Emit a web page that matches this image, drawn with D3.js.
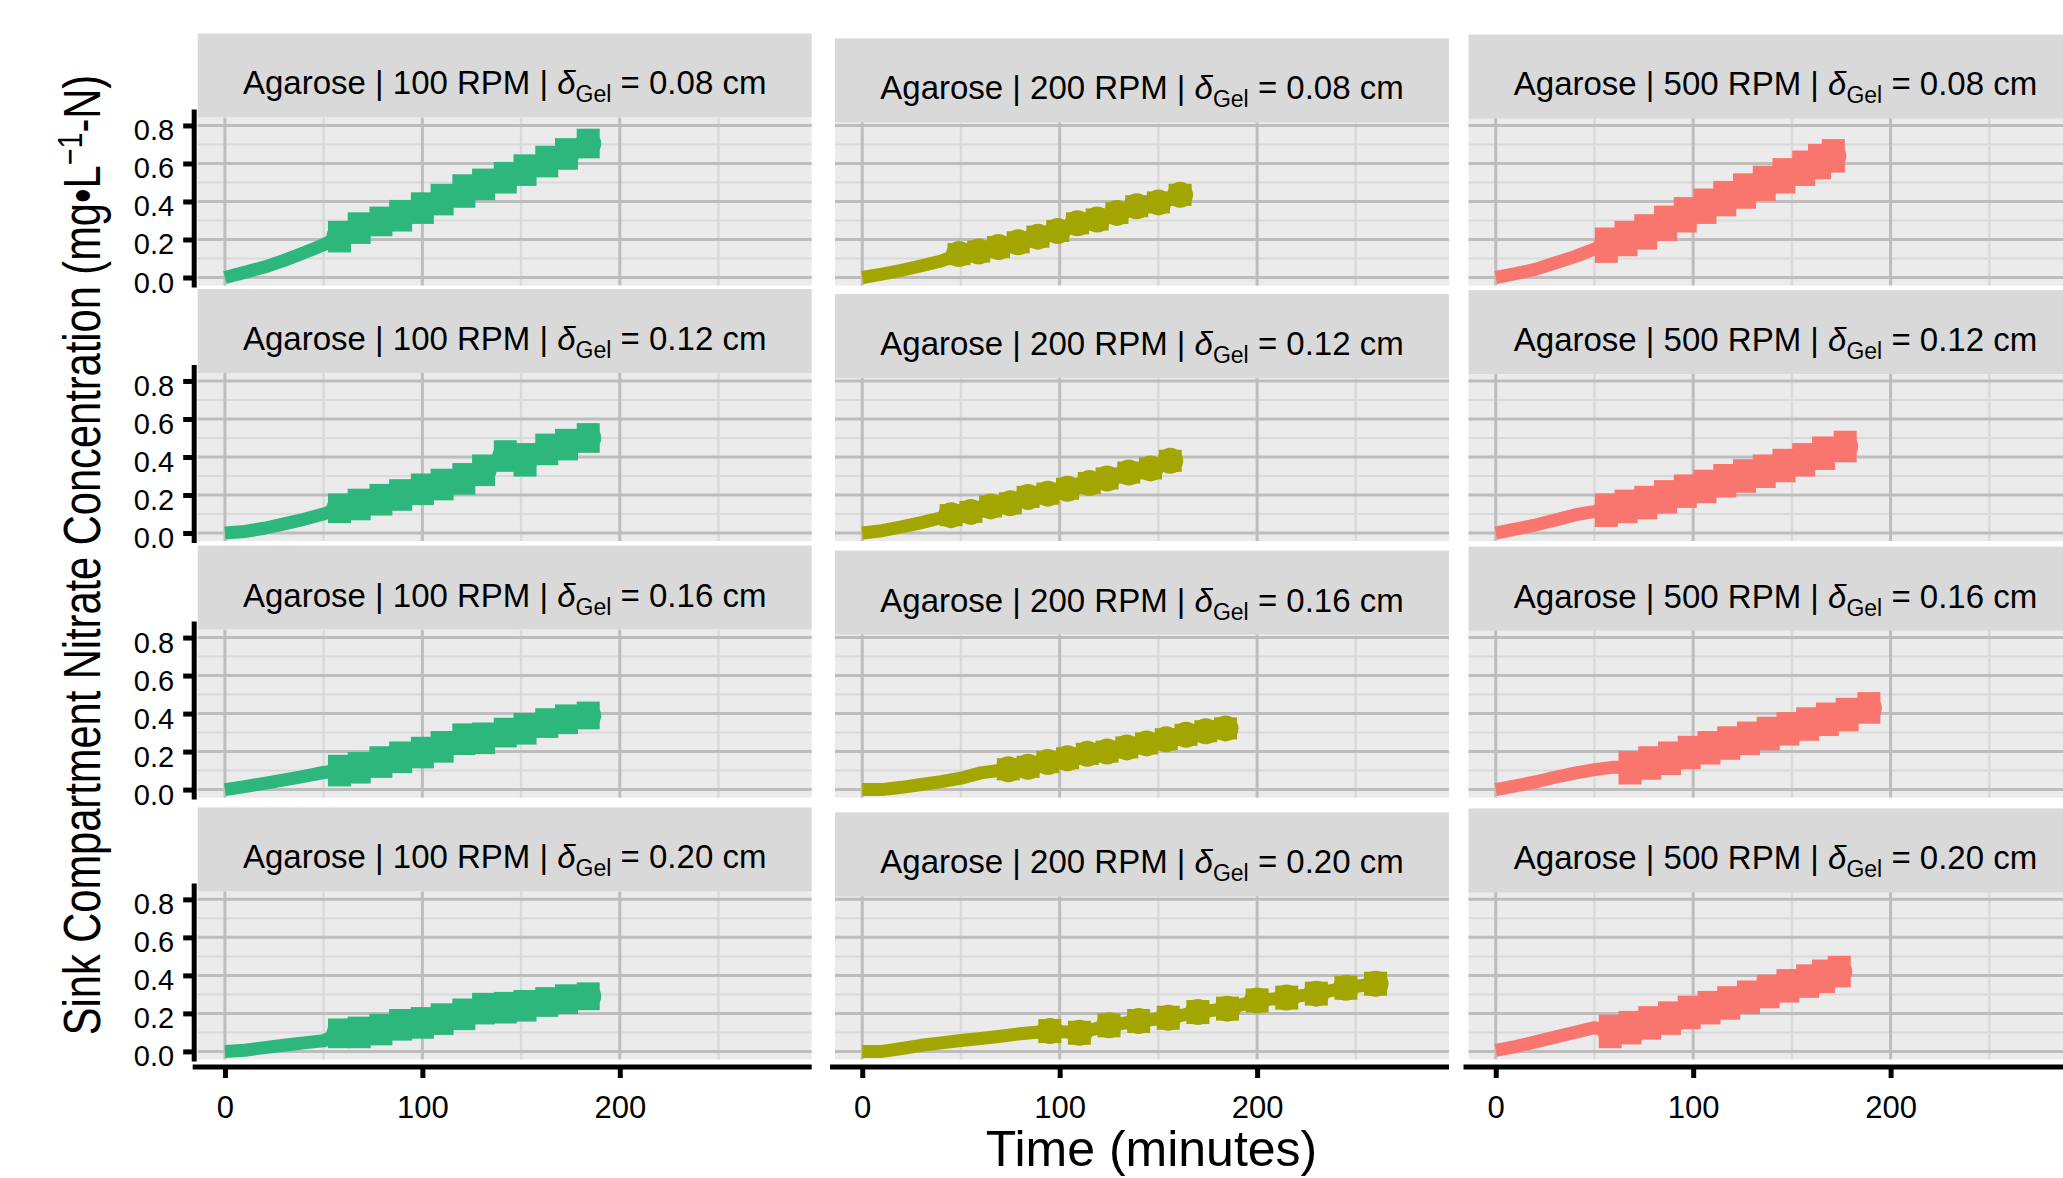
<!DOCTYPE html>
<html>
<head>
<meta charset="utf-8">
<script src="https://cdn.jsdelivr.net/npm/d3@7"></script>
<style>
  body { margin: 0; background: #fff; }
  svg { display: block; }
  text { font-family: "Liberation Sans", Arial, Helvetica, sans-serif; fill: #000; }
</style>
</head>
<body>
<div id="chart"></div>
<script>
// facets
var rpms = ["100", "200", "500"];
var gels = ["0.08", "0.12", "0.16", "0.20"];
var colors = { "100": "#2db77d", "200": "#a3a500", "500": "#f8766d" };

// ticks
var xTicks = [0, 100, 200];
var xMinor = [50, 150, 250];
var yTicks = [0, 0.2, 0.4, 0.6, 0.8];
var yMinor = [0.1, 0.3, 0.5, 0.7];

// 100 RPM (time in minutes, concentration, sd; sd 0 = trace only)
var t100 = [0, 10, 20, 30, 40, 50, 58, 68, 79, 89, 100, 110, 121, 131, 142, 152, 163, 173, 184];
var y100_08 = [0, 0.027, 0.055, 0.09, 0.13, 0.172, 0.215, 0.26, 0.295, 0.325, 0.365, 0.41, 0.455, 0.49, 0.525, 0.565, 0.61, 0.65, 0.705];
var sd100_08 = [0, 0, 0, 0, 0, 0, 0.07, 0.07, 0.065, 0.07, 0.07, 0.07, 0.075, 0.07, 0.07, 0.07, 0.07, 0.07, 0.065];
var y100_12 = [0, 0.008, 0.025, 0.048, 0.072, 0.1, 0.13, 0.15, 0.175, 0.2, 0.23, 0.255, 0.285, 0.33, 0.405, 0.385, 0.44, 0.465, 0.5];
var sd100_12 = [0, 0, 0, 0, 0, 0, 0.065, 0.07, 0.07, 0.07, 0.07, 0.07, 0.07, 0.07, 0.07, 0.075, 0.07, 0.07, 0.065];
var y100_16 = [0, 0.016, 0.033, 0.051, 0.07, 0.09, 0.1, 0.115, 0.145, 0.17, 0.195, 0.225, 0.265, 0.27, 0.3, 0.32, 0.35, 0.37, 0.39];
var sd100_16 = [0, 0, 0, 0, 0, 0, 0.07, 0.07, 0.07, 0.07, 0.07, 0.07, 0.07, 0.07, 0.065, 0.07, 0.065, 0.065, 0.06];
var y100_20 = [0, 0.006, 0.02, 0.032, 0.045, 0.056, 0.095, 0.1, 0.115, 0.14, 0.15, 0.17, 0.195, 0.225, 0.23, 0.24, 0.26, 0.275, 0.29];
var sd100_20 = [0, 0, 0, 0, 0, 0, 0.065, 0.07, 0.07, 0.07, 0.07, 0.07, 0.07, 0.07, 0.07, 0.07, 0.065, 0.065, 0.06];

// 200 RPM
var t200_08 = [0, 10, 20, 30, 40, 49, 59, 69, 79, 89, 99, 109, 119, 129, 139, 150, 161];
var y200_08 = [0, 0.018, 0.038, 0.062, 0.087, 0.123, 0.137, 0.16, 0.185, 0.215, 0.245, 0.285, 0.305, 0.34, 0.375, 0.395, 0.435];
var sd200_08 = [0, 0, 0, 0, 0, 0.045, 0.045, 0.045, 0.045, 0.045, 0.045, 0.045, 0.045, 0.045, 0.045, 0.045, 0.045];
var t200_12 = [0, 10, 20, 30, 38, 45, 55, 65, 75, 84, 94, 104, 115, 124, 135, 146, 156];
var y200_12 = [0, 0.012, 0.032, 0.055, 0.075, 0.094, 0.111, 0.14, 0.156, 0.19, 0.207, 0.233, 0.263, 0.287, 0.318, 0.34, 0.38];
var sd200_12 = [0, 0, 0, 0, 0, 0.045, 0.045, 0.045, 0.045, 0.045, 0.045, 0.045, 0.045, 0.045, 0.045, 0.045, 0.045];
var t200_16 = [0, 10, 20, 30, 40, 50, 60, 74, 84, 94, 104, 114, 124, 134, 144, 154, 164, 174, 184];
var y200_16 = [0, 0, 0.012, 0.027, 0.042, 0.06, 0.088, 0.107, 0.12, 0.145, 0.165, 0.188, 0.2, 0.222, 0.243, 0.265, 0.288, 0.307, 0.322];
var sd200_16 = [0, 0, 0, 0, 0, 0, 0, 0.045, 0.045, 0.045, 0.045, 0.045, 0.045, 0.045, 0.045, 0.045, 0.045, 0.045, 0.045];
var t200_20 = [0, 10, 20, 30, 40, 50, 60, 70, 80, 95, 110, 125, 140, 155, 170, 185, 200, 215, 230, 245, 260];
var y200_20 = [0, 0, 0.015, 0.032, 0.045, 0.057, 0.068, 0.08, 0.093, 0.107, 0.098, 0.137, 0.16, 0.177, 0.207, 0.225, 0.268, 0.283, 0.304, 0.335, 0.356];
var sd200_20 = [0, 0, 0, 0, 0, 0, 0, 0, 0, 0.05, 0.05, 0.05, 0.05, 0.05, 0.05, 0.05, 0.05, 0.05, 0.05, 0.05, 0.05];

// 500 RPM
var t500_08 = [0, 10, 20, 30, 40, 50, 56, 66, 76, 86, 96, 106, 116, 126, 136, 146, 156, 164, 171];
var y500_08 = [0, 0.02, 0.043, 0.076, 0.11, 0.15, 0.17, 0.205, 0.24, 0.285, 0.33, 0.375, 0.415, 0.455, 0.495, 0.535, 0.575, 0.61, 0.64];
var sd500_08 = [0, 0, 0, 0, 0, 0, 0.08, 0.08, 0.08, 0.08, 0.08, 0.08, 0.08, 0.08, 0.08, 0.08, 0.08, 0.08, 0.075];
var t500_12 = [0, 10, 20, 30, 40, 48, 56, 66, 76, 86, 96, 106, 116, 126, 136, 146, 156, 166, 177];
var y500_12 = [0, 0.02, 0.042, 0.068, 0.095, 0.11, 0.12, 0.14, 0.16, 0.19, 0.22, 0.245, 0.275, 0.3, 0.325, 0.355, 0.385, 0.42, 0.455];
var sd500_12 = [0, 0, 0, 0, 0, 0, 0.075, 0.075, 0.075, 0.075, 0.075, 0.075, 0.075, 0.075, 0.075, 0.075, 0.075, 0.075, 0.07];
var t500_16 = [0, 10, 20, 30, 40, 50, 60, 68, 78, 88, 98, 108, 118, 128, 138, 148, 158, 168, 178, 189];
var y500_16 = [0, 0.02, 0.04, 0.065, 0.087, 0.105, 0.118, 0.115, 0.14, 0.165, 0.195, 0.22, 0.245, 0.27, 0.295, 0.32, 0.345, 0.37, 0.395, 0.43];
var sd500_16 = [0, 0, 0, 0, 0, 0, 0, 0.075, 0.075, 0.075, 0.075, 0.075, 0.075, 0.075, 0.075, 0.075, 0.075, 0.075, 0.075, 0.07];
var t500_20 = [0, 10, 20, 30, 40, 50, 58, 68, 78, 88, 98, 108, 118, 128, 138, 148, 158, 166, 174];
var y500_20 = [0.005, 0.025, 0.05, 0.075, 0.1, 0.125, 0.105, 0.125, 0.15, 0.175, 0.205, 0.23, 0.255, 0.285, 0.315, 0.345, 0.37, 0.395, 0.42];
var sd500_20 = [0, 0, 0, 0, 0, 0, 0.075, 0.075, 0.075, 0.075, 0.075, 0.075, 0.075, 0.075, 0.075, 0.075, 0.075, 0.075, 0.07];

var panels = [
  { rpm: "100", gel: "0.08", t: t100, y: y100_08, sd: sd100_08 },
  { rpm: "100", gel: "0.12", t: t100, y: y100_12, sd: sd100_12 },
  { rpm: "100", gel: "0.16", t: t100, y: y100_16, sd: sd100_16 },
  { rpm: "100", gel: "0.20", t: t100, y: y100_20, sd: sd100_20 },
  { rpm: "200", gel: "0.08", t: t200_08, y: y200_08, sd: sd200_08 },
  { rpm: "200", gel: "0.12", t: t200_12, y: y200_12, sd: sd200_12 },
  { rpm: "200", gel: "0.16", t: t200_16, y: y200_16, sd: sd200_16 },
  { rpm: "200", gel: "0.20", t: t200_20, y: y200_20, sd: sd200_20 },
  { rpm: "500", gel: "0.08", t: t500_08, y: y500_08, sd: sd500_08 },
  { rpm: "500", gel: "0.12", t: t500_12, y: y500_12, sd: sd500_12 },
  { rpm: "500", gel: "0.16", t: t500_16, y: y500_16, sd: sd500_16 },
  { rpm: "500", gel: "0.20", t: t500_20, y: y500_20, sd: sd500_20 }
];

// layout
var W = 2063, H = 1178;
var colLeft = [197.7, 835, 1468.5];
var stripShift = [0, 5, 1];
var zeroY = [277.5, 533, 789.6, 1051.4];
var panelW = 614, panelH = 168, stripH = 84;
var axisY = 1067;
var capW = 23, ptR = 13;

var svg = d3.select("#chart").append("svg").attr("width", W).attr("height", H);

var x = d3.scaleLinear().domain([-13.8, 297.2]).range([0, panelW]);
var y = d3.scaleLinear().domain([-0.042, 0.842]).range([panelH, 0]);

function panelTop(r) { return zeroY[r] - y(0); }

var line = d3.line().x(function(d) { return x(d.t); }).y(function(d) { return y(d.v); });

panels.forEach(function(p) {
  var c = rpms.indexOf(p.rpm);
  var r = gels.indexOf(p.gel);
  var col = colors[p.rpm];
  var pts = p.t.map(function(t, i) { return { t: t, v: p.y[i], sd: p.sd[i] }; });
  var reps = pts.filter(function(d) { return d.sd > 0; });

  var g = svg.append("g").attr("transform", "translate(" + colLeft[c] + "," + panelTop(r) + ")");
  g.append("rect").attr("width", panelW).attr("height", panelH).attr("fill", "#ebebeb");

  g.selectAll(".vmin").data(xMinor).enter().append("line")
    .attr("x1", x).attr("x2", x).attr("y1", 0).attr("y2", panelH)
    .attr("stroke", "#dadada").attr("stroke-width", 2.5);
  g.selectAll(".hmin").data(yMinor).enter().append("line")
    .attr("x1", 0).attr("x2", panelW).attr("y1", y).attr("y2", y)
    .attr("stroke", "#dadada").attr("stroke-width", 2);
  g.selectAll(".vmaj").data(xTicks).enter().append("line")
    .attr("x1", x).attr("x2", x).attr("y1", 0).attr("y2", panelH)
    .attr("stroke", "#bdbdbd").attr("stroke-width", 3);
  g.selectAll(".hmaj").data(yTicks).enter().append("line")
    .attr("x1", 0).attr("x2", panelW).attr("y1", y).attr("y2", y)
    .attr("stroke", "#bdbdbd").attr("stroke-width", 3);

  g.append("path").datum(pts).attr("d", line)
    .attr("fill", "none").attr("stroke", col).attr("stroke-width", 13)
    .attr("stroke-linejoin", "round");

  g.selectAll(".err").data(reps).enter().append("rect")
    .attr("x", function(d) { return x(d.t) - capW / 2; })
    .attr("width", capW)
    .attr("y", function(d) { return y(d.v + d.sd) - 2.5; })
    .attr("height", function(d) { return y(d.v - d.sd) - y(d.v + d.sd) + 5; })
    .attr("fill", col);

  g.selectAll(".pt").data(reps).enter().append("circle")
    .attr("cx", function(d) { return x(d.t); })
    .attr("cy", function(d) { return y(d.v); })
    .attr("r", ptR)
    .attr("fill", col);

  // strip
  var sTop = panelTop(r) - stripH + stripShift[c];
  svg.append("rect").attr("x", colLeft[c]).attr("y", sTop)
    .attr("width", panelW).attr("height", stripH).attr("fill", "#d9d9d9");
  var st = svg.append("text")
    .attr("x", colLeft[c] + panelW / 2).attr("y", sTop + stripH - 23)
    .attr("text-anchor", "middle").attr("font-size", 33);
  st.append("tspan").text("Agarose | " + p.rpm + " RPM | ");
  st.append("tspan").attr("font-style", "italic").text("δ");
  st.append("tspan").attr("font-size", 23).attr("dy", 8).text("Gel");
  st.append("tspan").attr("font-size", 33).attr("dy", -8).text(" = " + p.gel + " cm");
});

// y axes, left column
gels.forEach(function(gel, r) {
  var ga = svg.append("g")
    .attr("transform", "translate(" + (colLeft[0] - 3.5) + "," + panelTop(r) + ")")
    .call(d3.axisLeft(y).tickValues(yTicks).tickSize(11).tickPadding(9).tickFormat(d3.format(".1f")));
  ga.attr("font-size", null).attr("font-family", null);
  ga.select(".domain").remove();
  ga.selectAll(".tick line").attr("stroke", "#000").attr("stroke-width", 5);
  ga.selectAll(".tick text").attr("font-size", 29).attr("dy", "0.5em").attr("fill", "#000");
  ga.append("line").attr("x1", 0).attr("x2", 0).attr("y1", -8).attr("y2", panelH + 2)
    .attr("stroke", "#000").attr("stroke-width", 5);
});

// x axes, bottom row
rpms.forEach(function(rpm, c) {
  var gx = svg.append("g")
    .attr("transform", "translate(" + colLeft[c] + "," + axisY + ")")
    .call(d3.axisBottom(x).tickValues(xTicks).tickSize(11).tickFormat(d3.format("d")));
  gx.attr("font-size", null).attr("font-family", null);
  gx.select(".domain").remove();
  gx.selectAll(".tick line").attr("stroke", "#000").attr("stroke-width", 5);
  gx.selectAll(".tick text").attr("font-size", 31).attr("y", 51).attr("dy", "0").attr("fill", "#000");
  gx.append("line").attr("x1", -5).attr("x2", panelW).attr("y1", 0).attr("y2", 0)
    .attr("stroke", "#000").attr("stroke-width", 5);
});

// axis titles
svg.append("text")
  .attr("x", 1151.5).attr("y", 1166)
  .attr("text-anchor", "middle").attr("font-size", 50)
  .text("Time (minutes)");

var yt = svg.append("text")
  .attr("transform", "translate(100,555) rotate(-90) scale(0.8,1)")
  .attr("text-anchor", "middle").attr("font-size", 52);
yt.append("tspan").text("Sink Compartment Nitrate Concentration (mg•L");
yt.append("tspan").attr("font-size", 36).attr("dy", -18).text("−1");
yt.append("tspan").attr("font-size", 52).attr("dy", 18).text("-N)");
</script>
</body>
</html>
